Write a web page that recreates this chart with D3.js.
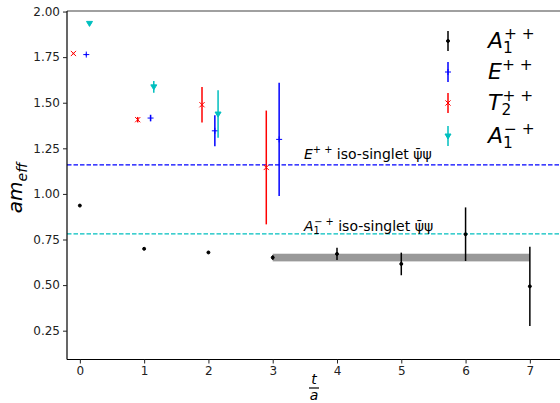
<!DOCTYPE html>
<html>
<head>
<meta charset="utf-8">
<script src="https://cdn.jsdelivr.net/npm/d3@7"></script>
<style>
body { margin: 0; background: #fff; }
text { font-family: "DejaVu Sans", sans-serif; }
</style>
</head>
<body>
<svg id="chart" width="560" height="403"></svg>
<script>
// data
var tA1pp = [0, 1, 2, 3, 4, 5, 6, 7];
var yA1pp = [0.936, 0.699, 0.679, 0.651, 0.671, 0.616, 0.779, 0.493];
var eA1pp = [0.003, 0.003, 0.003, 0.012, 0.034, 0.062, 0.147, 0.217];

var tEpp = [0, 1, 2, 3];
var yEpp = [1.764, 1.416, 1.346, 1.299];
var eEpp = [0.005, 0.018, 0.085, 0.31];

var tT2pp = [0, 1, 2, 3];
var yT2pp = [1.770, 1.407, 1.489, 1.145];
var eT2pp = [0.004, 0.015, 0.097, 0.312];

var tA1mp = [0, 1, 2];
var yA1mp = [1.935, 1.587, 1.438];
var eA1mp = [0.006, 0.032, 0.13];

var fitRange = [3, 7];
var fitValue = 0.651;
var fitErr = 0.021;

var eSinglet = 1.159;
var a1mpSinglet = 0.781;

var xTicks = [0, 1, 2, 3, 4, 5, 6, 7];
var yTicks = [0.25, 0.50, 0.75, 1.00, 1.25, 1.50, 1.75, 2.00];

var svg = d3.select("#chart");
var padL = 67, padT = 11, padB = 359.5, padR = 562;

var x = d3.scaleLinear().domain([-0.2, 7.5]).range([padL, padR]);
var y = d3.scaleLinear().domain([0.092, 2.003]).range([padB, padT]);

// fit band
svg.append("rect")
    .attr("x", x(fitRange[0]))
    .attr("y", y(fitValue + fitErr))
    .attr("width", x(fitRange[1]) - x(fitRange[0]))
    .attr("height", y(fitValue - fitErr) - y(fitValue + fitErr))
    .attr("fill", "#999");

// singlet lines
svg.append("line")
    .attr("x1", padL).attr("x2", 560)
    .attr("y1", y(eSinglet)).attr("y2", y(eSinglet))
    .attr("stroke", "blue").attr("stroke-width", 1.2)
    .attr("stroke-dasharray", "4.5,2");
svg.append("line")
    .attr("x1", padL).attr("x2", 560)
    .attr("y1", y(a1mpSinglet)).attr("y2", y(a1mpSinglet))
    .attr("stroke", "#00bfbf").attr("stroke-width", 1.2)
    .attr("stroke-dasharray", "4.5,2");

function label(g, px, py, base, sub, sup, size, rest) {
    var t = g.append("text").attr("x", px).attr("y", py)
        .attr("font-size", size).attr("fill", "#000");
    t.append("tspan").attr("font-style", "italic").text(base);
    if (sub) {
        t.append("tspan").attr("font-size", size * 0.7).attr("dy", size * 0.22).text(sub);
        t.append("tspan").attr("font-size", size * 0.7).attr("dx", -size * 0.4).attr("dy", -size * 0.62).text(sup);
        t.append("tspan").attr("font-size", size).attr("dy", size * 0.4).text(rest || "");
    } else {
        t.append("tspan").attr("font-size", size * 0.7).attr("dy", -size * 0.4).text(sup);
        t.append("tspan").attr("font-size", size).attr("dy", size * 0.4).text(rest || "");
    }
    return t;
}

label(svg, 304, 159, "E", null, "+ +", 14, " iso-singlet ψ̄ψ");
label(svg, 304, 231, "A", "1", "− +", 14, " iso-singlet ψ̄ψ");

function series(ts, ys, es, off, color, marker) {
    var g = svg.append("g");
    var pts = ts.map(function(t, i) { return {t: t + off, v: ys[i], e: es[i]}; });
    g.selectAll("line.err").data(pts).enter().append("line")
        .attr("x1", function(d) { return x(d.t); })
        .attr("x2", function(d) { return x(d.t); })
        .attr("y1", function(d) { return y(d.v + d.e); })
        .attr("y2", function(d) { return y(d.v - d.e); })
        .attr("stroke", color).attr("stroke-width", 1.5);
    g.selectAll("path.m").data(pts).enter().append("path")
        .attr("transform", function(d) { return "translate(" + x(d.t) + "," + y(d.v) + ")"; })
        .attr("d", marker)
        .attr("fill", color).attr("stroke", color).attr("stroke-width", 1);
}

var dot = d3.symbol(d3.symbolCircle, 7)();
var plus = "M-3,0H3M0,-3V3";
var cross = "M-2.6,-2.6L2.6,2.6M-2.6,2.6L2.6,-2.6";
var tri = "M-3,-2L3,-2L0,3Z";

series(tA1pp, yA1pp, eA1pp, 0, "#000", dot);
series(tEpp, yEpp, eEpp, 0.1, "blue", plus);
series(tT2pp, yT2pp, eT2pp, -0.1, "red", cross);
series(tA1mp, yA1mp, eA1mp, 0.15, "#00bfbf", tri);

// spines
svg.append("line").attr("x1", padL).attr("x2", 560).attr("y1", padT).attr("y2", padT)
    .attr("stroke", "#808080").attr("stroke-width", 1.5);
svg.append("line").attr("x1", padL).attr("x2", padL).attr("y1", padT).attr("y2", padB)
    .attr("stroke", "#000").attr("stroke-width", 1.2);
svg.append("line").attr("x1", padL).attr("x2", 560).attr("y1", padB).attr("y2", padB)
    .attr("stroke", "#000").attr("stroke-width", 1.2);

// axes
var xAxis = svg.append("g").attr("transform", "translate(0," + padB + ")")
    .call(d3.axisBottom(x).tickValues(xTicks).tickSize(4).tickPadding(3).tickFormat(d3.format("d")));
var yAxis = svg.append("g").attr("transform", "translate(" + padL + ",0)")
    .call(d3.axisLeft(y).tickValues(yTicks).tickSize(4).tickPadding(3).tickFormat(d3.format(".2f")));
[xAxis, yAxis].forEach(function(a) {
    a.select(".domain").remove();
    a.selectAll("text").attr("font-size", 12).attr("fill", "#222")
        .attr("font-family", "DejaVu Sans, sans-serif");
    a.selectAll("line").attr("stroke", "#222");
});

// axis titles
var yl = svg.append("text").attr("transform", "translate(22,188) rotate(-90)")
    .attr("text-anchor", "middle").attr("font-size", 20);
yl.append("tspan").attr("font-style", "italic").text("am");
yl.append("tspan").attr("font-style", "italic").attr("font-size", 14).attr("dy", 5).text("eff");

svg.append("text").attr("x", 314).attr("y", 384).attr("text-anchor", "middle")
    .attr("font-size", 14).attr("font-style", "italic").text("t");
svg.append("line").attr("x1", 309).attr("x2", 319).attr("y1", 388).attr("y2", 388)
    .attr("stroke", "#000").attr("stroke-width", 1.2);
svg.append("text").attr("x", 314).attr("y", 400).attr("text-anchor", "middle")
    .attr("font-size", 14).attr("font-style", "italic").text("a");

// legend
var legNames = [["A", "1", "+ +"], ["E", null, "+ +"], ["T", "2", "+ +"], ["A", "1", "− +"]];
var legColors = ["#000", "blue", "red", "#00bfbf"];
var legMarkers = [dot, plus, cross, tri];
var legY = [41, 72, 103, 136];
var lg = svg.append("g");
legNames.forEach(function(n, i) {
    lg.append("line").attr("x1", 448).attr("x2", 448)
        .attr("y1", legY[i] - 10).attr("y2", legY[i] + 10)
        .attr("stroke", legColors[i]).attr("stroke-width", 1.5);
    lg.append("path").attr("transform", "translate(448," + legY[i] + ")")
        .attr("d", legMarkers[i]).attr("fill", legColors[i]).attr("stroke", legColors[i]);
    label(lg, 488, legY[i] + 7, n[0], n[1], n[2], 22, "");
});
</script>
</body>
</html>
